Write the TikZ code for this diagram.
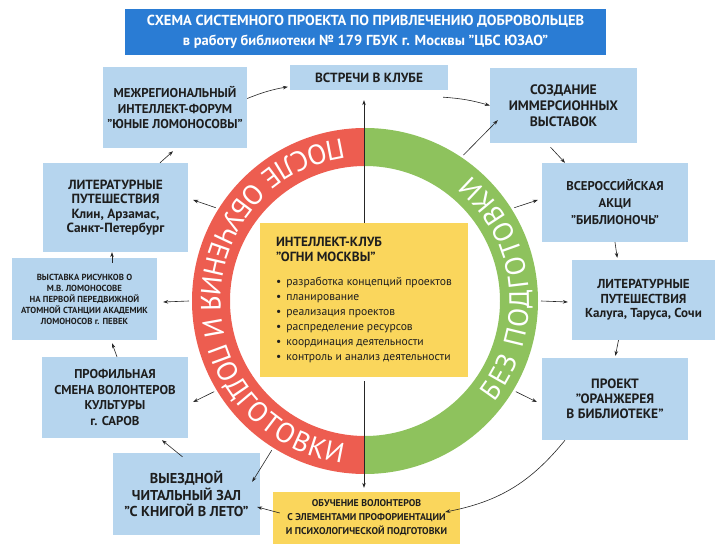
\documentclass[tikz,border=0pt]{standalone}
\usepackage{fontspec}
\setmainfont{PT Sans}
\usetikzlibrary{arrows.meta, decorations.text}

\definecolor{titleblue}{RGB}{42,124,212}
\definecolor{boxblue}{RGB}{182,213,238}
\definecolor{clubyellow}{RGB}{250,214,92}
\definecolor{ringred}{RGB}{237,93,80}
\definecolor{ringgreen}{RGB}{142,194,93}
\definecolor{boxtext}{RGB}{30,30,30}

\newcommand{\ringfont}{\fontsize{28}{28}\selectfont}

\begin{document}
\begin{tikzpicture}[x=1pt, y=1pt,
    bluebox/.style={fill=boxblue, text=boxtext, align=center, inner sep=2pt, font=\bfseries\fontsize{12}{15}\selectfont},
    yellowbox/.style={fill=clubyellow, text=boxtext, inner sep=2pt},
    arr/.style={-{Stealth[length=5pt,width=3.6pt]}, line width=0.6pt, black!85}]

    \useasboundingbox (0,0) rectangle (715,544);

    % TITLE
    \node[fill=titleblue, text=white, minimum width=481, minimum height=46, align=center,
          font=\bfseries\fontsize{14.5}{20}\selectfont] (title) at (365.5,512)
        {СХЕМА СИСТЕМНОГО ПРОЕКТА ПО ПРИВЛЕЧЕНИЮ ДОБРОВОЛЬЦЕВ\\в работу библиотеки № 179 ГБУК г. Москвы "ЦБС ЮЗАО"};

    % RING
    \begin{scope}[shift={(365,243)}]
        \fill[ringred] (90:173) arc[start angle=90, end angle=270, radius=173]
            -- (270:135) arc[start angle=270, end angle=90, radius=135] -- cycle;
        \fill[ringgreen] (-90:173) arc[start angle=-90, end angle=90, radius=173]
            -- (90:135) arc[start angle=90, end angle=-90, radius=135] -- cycle;

        % Ring texts
        \path[decorate, decoration={text along path, text color=white, text align=fit to path,
              text={|\ringfont|ПОСЛЕ ОБУЧЕНИЯ И ПОДГОТОВКИ}}]
            (98:164) arc[start angle=98, end angle=262, radius=164];
        \path[decorate, decoration={text along path, text color=white, text align=fit to path,
              text={|\ringfont|БЕЗ ПОДГОТОВКИ}}]
            (-38:164) arc[start angle=-38, end angle=50, radius=164];

        % Ring points for connectors
        \foreach \a/\n in {56/rA, 32/rB, 0/rC, -31/rD, 238/rE, 211/rF, 180/rG, 148/rH}
            \coordinate (\n) at (\a:176);
    \end{scope}

    % CENTRE
    \node[yellowbox, minimum width=208, minimum height=154, align=left,
          font=\fontsize{11.6}{15}\selectfont] (club) at (364,244)
        {{\bfseries\fontsize{13.3}{14}\selectfont ИНТЕЛЛЕКТ-КЛУБ}\\
         {\bfseries\fontsize{13.3}{14}\selectfont "ОГНИ МОСКВЫ"}\\[9pt]
         \textbullet\hspace{5pt}разработка концепций проектов\\
         \textbullet\hspace{5pt}планирование\\
         \textbullet\hspace{5pt}реализация проектов\\
         \textbullet\hspace{5pt}распределение ресурсов\\
         \textbullet\hspace{5pt}координация деятельности\\
         \textbullet\hspace{5pt}контроль и анализ деятельности};

    % BOXES
    \node[bluebox, minimum width=158, minimum height=25, font=\bfseries\fontsize{13.3}{14}\selectfont]
        (vstr) at (369,466.5) {ВСТРЕЧИ В КЛУБЕ};
    \node[bluebox, minimum width=144, minimum height=81, font=\bfseries\fontsize{12.8}{15.5}\selectfont]
        (mezh) at (175,436.5) {МЕЖРЕГИОНАЛЬНЫЙ\\ИНТЕЛЛЕКТ-ФОРУМ\\"ЮНЫЕ ЛОМОНОСОВЫ"};
    \node[bluebox, minimum width=147, minimum height=75, font=\bfseries\fontsize{13.7}{16}\selectfont]
        (sozd) at (563.5,438.5) {СОЗДАНИЕ\\ИММЕРСИОННЫХ\\ВЫСТАВОК};
    \node[bluebox, minimum width=146, minimum height=79, font=\bfseries\fontsize{12.7}{17}\selectfont]
        (vseross) at (615,341.5) {ВСЕРОССИЙСКАЯ\\АКЦИ\\"БИБЛИОНОЧЬ"};
    \node[bluebox, minimum width=143, minimum height=80, font=\bfseries\fontsize{13}{14.5}\selectfont]
        (kaluga) at (643.5,244) {ЛИТЕРАТУРНЫЕ\\ПУТЕШЕСТВИЯ\\Калуга, Таруса, Сочи};
    \node[bluebox, minimum width=146, minimum height=82, font=\bfseries\fontsize{13.5}{15}\selectfont]
        (proekt) at (615,145) {ПРОЕКТ\\"ОРАНЖЕРЕЯ\\В БИБЛИОТЕКЕ"};
    \node[yellowbox, minimum width=187, minimum height=52, align=center, font=\bfseries\fontsize{9.8}{14}\selectfont]
        (obuch) at (366.5,26) {ОБУЧЕНИЕ ВОЛОНТЕРОВ\\С ЭЛЕМЕНТАМИ ПРОФОРИЕНТАЦИИ\\И ПСИХОЛОГИЧЕСКОЙ ПОДГОТОВКИ};
    \node[bluebox, minimum width=147, minimum height=82, font=\bfseries\fontsize{14.3}{16.5}\selectfont]
        (vyezd) at (186.5,50) {ВЫЕЗДНОЙ\\ЧИТАЛЬНЫЙ ЗАЛ\\"С КНИГОЙ В ЛЕТО"};
    \node[bluebox, minimum width=146, minimum height=81, font=\bfseries\fontsize{12.8}{15.5}\selectfont]
        (profil) at (115,146.5) {ПРОФИЛЬНАЯ\\СМЕНА ВОЛОНТЕРОВ\\КУЛЬТУРЫ\\г. САРОВ};
    \node[bluebox, minimum width=145, minimum height=82, font=\bfseries\fontsize{8.8}{11}\selectfont]
        (vyst) at (84.5,245) {ВЫСТАВКА РИСУНКОВ О\\М.В. ЛОМОНОСОВЕ\\НА ПЕРВОЙ ПЕРЕДВИЖНОЙ\\АТОМНОЙ СТАНЦИИ АКАДЕМИК\\ЛОМОНОСОВ г. ПЕВЕК};
    \node[bluebox, minimum width=145, minimum height=89, font=\bfseries\fontsize{13.3}{14.5}\selectfont]
        (klin) at (115.5,336.5) {ЛИТЕРАТУРНЫЕ\\ПУТЕШЕСТВИЯ\\Клин, Арзамас,\\Санкт-Петербург};

    % CONNECTORS FROM THE CLUB
    \draw[arr, shorten >=10pt] (club.north) -- (club.north |- vstr.south);
    \draw[arr, shorten <=4pt, shorten >=4pt] (club.south) -- (club.south |- obuch.north);

    % CONNECTORS FROM THE RING
    \draw[arr] (rA) -- ([shift={(8,23)}]sozd.south west);
    \draw[arr] (rB) -- ([shift={(-4,2.5)}]vseross.west);
    \draw[arr] (rC) -- ([shift={(-4,-2)}]kaluga.west);
    \draw[arr] (rD) -- ([shift={(-5,-3)}]proekt.west);
    \draw[arr] (rE) -- ([shift={(-8,-29)}]vyezd.north east);
    \draw[arr] (rF) -- ([shift={(5,-4.5)}]profil.east);
    \draw[arr] (rG) -- ([shift={(6,-3)}]vyst.east);
    \draw[arr] (rH) -- ([shift={(5,7.5)}]klin.east);

    % CHAIN OF BOXES
    \draw[arr] ([shift={(-5,-7)}]vstr.south east) to[bend left=6] (sozd.west);
    \draw[arr] ([xshift=-13,yshift=-4]sozd.south) -- ([xshift=-50]vseross.north);
    \draw[arr, shorten >=2pt] (vseross.south) -- ([xshift=-26]kaluga.north);
    \draw[arr, shorten >=2pt] ([xshift=-25]kaluga.south) -- (proekt.north);
    \draw[arr] ([xshift=-50]proekt.south) to[bend left=20] ([shift={(-15,6)}]obuch.east);
    \draw[arr] ([shift={(7,5)}]obuch.west) -- ([shift={(-3,-13)}]vyezd.east);
    \draw[arr] ([shift={(-4,-4)}]vyezd.north) -- ([shift={(47,-2)}]profil.south);
    \draw[arr] ([xshift=2]profil.north) -- ([xshift=27.5,yshift=-3]vyst.south);
    \draw[arr] ([xshift=27.5,yshift=-5]vyst.north) -- ([xshift=-3.5]klin.south);
    \draw[arr] ([xshift=44.5]klin.north) -- ([shift={(-2,-3)}]mezh.south);
    \draw[arr, shorten >=2pt] ([yshift=9]mezh.east) to[bend left=6] ([yshift=-9]vstr.west);
\end{tikzpicture}
\end{document}
